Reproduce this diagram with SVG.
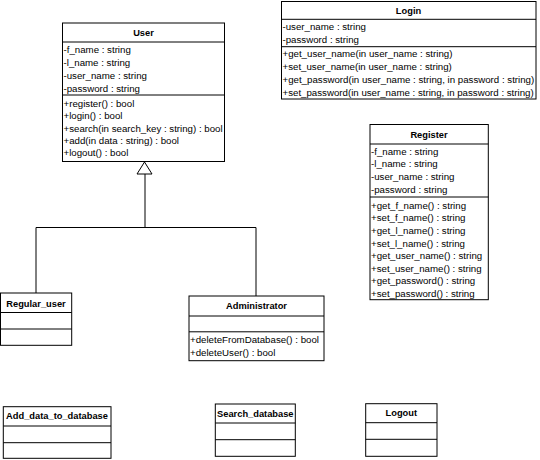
<svg xmlns="http://www.w3.org/2000/svg" width="540" height="460" viewBox="0 0 540 460">
<style>
rect.box{fill:#fff;stroke:#000;stroke-width:1}
line.sep{stroke:#000;stroke-width:1}
text{font-family:"Liberation Sans",Arial,sans-serif;font-size:9.7px;fill:#000}
text.t{font-weight:bold;font-size:9.3px;text-anchor:middle}
.conn{fill:none;stroke:#000;stroke-width:1}
</style>
<rect width="540" height="460" fill="#fff"/>
<g id="connectors">
<polyline class="conn" points="36,293 36,227.5 256,227.5 256,296"/>
<line class="conn" x1="145" y1="174" x2="145" y2="227.5"/>
<polygon points="144.5,162 137,174 152,174" fill="#fff" stroke="#000" stroke-width="1"/>
</g>
<g id="User">
<rect class="box" x="62.5" y="23" width="162" height="138.5"/>
<line class="sep" x1="62.5" y1="42" x2="224.5" y2="42"/>
<line class="sep" x1="62.5" y1="95" x2="224.5" y2="95"/>
<text class="t" x="143.5" y="36">User</text>
<text x="63.5" y="52.7">-f_name : string</text>
<text x="63.5" y="65.7">-l_name : string</text>
<text x="63.5" y="78.7">-user_name : string</text>
<text x="63.5" y="91.5">-password : string</text>
<text x="63.5" y="106.8">+register() : bool</text>
<text x="63.5" y="119.2">+login() : bool</text>
<text x="63.5" y="131.6">+search(in search_key : string) : bool</text>
<text x="63.5" y="144">+add(in data : string) : bool</text>
<text x="63.5" y="156.4">+logout() : bool</text>
</g>
<g id="Login">
<rect class="box" x="281.5" y="1.5" width="254.5" height="97.5"/>
<line class="sep" x1="281.5" y1="19.3" x2="536" y2="19.3"/>
<line class="sep" x1="281.5" y1="46.7" x2="536" y2="46.7"/>
<text class="t" x="408.5" y="14">Login</text>
<text x="282.5" y="29.7">-user_name : string</text>
<text x="282.5" y="43">-password : string</text>
<text x="282.5" y="56.7">+get_user_name(in user_name : string)</text>
<text x="282.5" y="69.8">+set_user_name(in user_name : string)</text>
<text x="282.5" y="82.9">+get_password(in user_name : string, in password : string)</text>
<text x="282.5" y="96">+set_password(in user_name : string, in password : string)</text>
</g>
<g id="Register">
<rect class="box" x="370" y="124.5" width="118.3" height="175.2"/>
<line class="sep" x1="370" y1="144" x2="488.3" y2="144"/>
<line class="sep" x1="370" y1="197" x2="488.3" y2="197"/>
<text class="t" x="429" y="138">Register</text>
<text x="371" y="154.8">-f_name : string</text>
<text x="371" y="167.2">-l_name : string</text>
<text x="371" y="180.2">-user_name : string</text>
<text x="371" y="192.5">-password : string</text>
<text x="371" y="208.8">+get_f_name() : string</text>
<text x="371" y="221.4">+set_f_name() : string</text>
<text x="371" y="234">+get_l_name() : string</text>
<text x="371" y="246.6">+set_l_name() : string</text>
<text x="371" y="259.2">+get_user_name() : string</text>
<text x="371" y="271.8">+set_user_name() : string</text>
<text x="371" y="284.4">+get_password() : string</text>
<text x="371" y="297">+set_password() : string</text>
</g>
<g id="Regular_user">
<rect class="box" x="0.5" y="293" width="71.2" height="52.3"/>
<line class="sep" x1="0.5" y1="312.5" x2="71.7" y2="312.5"/>
<line class="sep" x1="0.5" y1="329" x2="71.7" y2="329"/>
<text class="t" x="36" y="306.8">Regular_user</text>
</g>
<g id="Administrator">
<rect class="box" x="189" y="296" width="135" height="64.7"/>
<line class="sep" x1="189" y1="316" x2="324" y2="316"/>
<line class="sep" x1="189" y1="331.8" x2="324" y2="331.8"/>
<text class="t" x="256.5" y="308.5">Administrator</text>
<text x="190" y="343">+deleteFromDatabase() : bool</text>
<text x="190" y="356">+deleteUser() : bool</text>
</g>
<g id="Add_data_to_database">
<rect class="box" x="3.3" y="406.7" width="107.7" height="51.6"/>
<line class="sep" x1="3.3" y1="426" x2="111" y2="426"/>
<line class="sep" x1="3.3" y1="442.7" x2="111" y2="442.7"/>
<text class="t" x="57" y="419">Add_data_to_database</text>
</g>
<g id="Search_database">
<rect class="box" x="215.3" y="404" width="80" height="52.3"/>
<line class="sep" x1="215.3" y1="423" x2="295.3" y2="423"/>
<line class="sep" x1="215.3" y1="439.7" x2="295.3" y2="439.7"/>
<text class="t" x="255.3" y="416.8">Search_database</text>
</g>
<g id="Logout">
<rect class="box" x="365.7" y="403.7" width="71.3" height="52.6"/>
<line class="sep" x1="365.7" y1="422.7" x2="437" y2="422.7"/>
<line class="sep" x1="365.7" y1="439.3" x2="437" y2="439.3"/>
<text class="t" x="401.3" y="416.2">Logout</text>
</g>
</svg>
